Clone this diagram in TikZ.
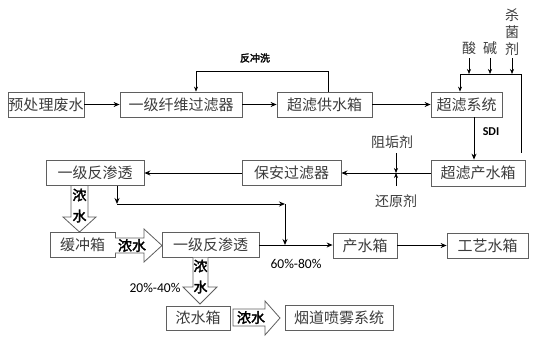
\documentclass[tikz,border=0pt]{standalone}
\usepackage{fontspec}
\usetikzlibrary{arrows.meta}
\newfontfamily\cjk{Noto Sans CJK SC}
\newfontfamily\cjkb[FakeBold=2.5]{Noto Sans CJK SC}
\newfontfamily\lat{Carlito}
\definecolor{bordergray}{RGB}{95,95,95}
\definecolor{txtgray}{RGB}{60,60,60}
\begin{document}
\begin{tikzpicture}[x=1pt,y=-1pt,
  box/.style={draw=bordergray,line width=0.8pt,inner sep=0pt,text=txtgray,
    font=\cjk\fontsize{15}{17}\selectfont},
  lbl/.style={inner sep=0pt,text=txtgray,font=\cjk\fontsize{14}{17}\selectfont,align=center},
  blbl/.style={inner sep=0pt,text=black,font=\cjkb\fontsize{14}{16}\selectfont,align=center},
  pct/.style={inner sep=0pt,text=black,font=\lat\fontsize{13.5}{15}\selectfont},
  arr/.style={line width=1pt,-{Stealth[length=6pt,width=5pt]}},
  ln/.style={line width=1pt},
  fat/.style={draw=bordergray,line width=0.8pt,fill=white}]
\useasboundingbox (0,0) rectangle (537,343);

% boxes
\node[box,minimum width=76pt,minimum height=25pt] (n1) at (46,104.5) {预处理废水};
\node[box,minimum width=122pt,minimum height=25pt] (n2) at (181,104.5) {一级纤维过滤器};
\node[box,minimum width=95pt,minimum height=25pt] (n3) at (324.5,104.5) {超滤供水箱};
\node[box,minimum width=71pt,minimum height=25pt] (n4) at (466.5,104.5) {超滤系统};
\node[box,minimum width=94pt,minimum height=26pt] (n5) at (478,173) {超滤产水箱};
\node[box,minimum width=99pt,minimum height=25pt] (n6) at (291.5,173) {保安过滤器};
\node[box,minimum width=98pt,minimum height=25pt] (n7) at (95,173) {一级反渗透};
\node[box,minimum width=65pt,minimum height=25pt] (n8) at (82.5,244.5) {缓冲箱};
\node[box,minimum width=97pt,minimum height=25pt] (n9) at (210.5,245) {一级反渗透};
\node[box,minimum width=64pt,minimum height=25pt] (n10) at (365,245.5) {产水箱};
\node[box,minimum width=81pt,minimum height=25pt] (n11) at (487.5,245.5) {工艺水箱};
\node[box,minimum width=64pt,minimum height=24pt] (n12) at (198,318) {浓水箱};
\node[box,minimum width=108pt,minimum height=25pt] (n13) at (339,317.5) {烟道喷雾系统};

% top row
\draw[arr] (n1) -- (n2);
\draw[arr] (n2) -- (n3);
\draw[arr] (n3) -- (n4);

% backwash
\coordinate (fbR) at (328,71);
\coordinate (fbL) at (196,71);
\draw[line width=0.6pt,-{Stealth[length=5pt,width=4pt]}] (fbR |- n3.north) -- (fbR) -- (fbL) -- (fbL |- n2.north);
\node[blbl,font=\cjkb\fontsize{10}{12}\selectfont] (bw) at (255,58) {反冲洗};

% chemicals
\node[lbl] (acid) at (469,48) {酸};
\node[lbl] (alk) at (490,48) {碱};
\node[lbl] (germ) at (512,32) {杀\\菌\\剂};
\coordinate (chL) at (460,74);
\coordinate (chR) at (521,74);
\coordinate (chEnd) at (521,153);
\draw[line width=0.6pt,-{Stealth[length=5pt,width=4pt]}] (469,58) -- (acid.south |- chL);
\draw[line width=0.6pt,-{Stealth[length=5pt,width=4pt]}] (490,58) -- (alk.south |- chL);
\draw[line width=0.6pt,-{Stealth[length=5pt,width=4pt]}] (512,58) -- (germ.south |- chL);
\draw[line width=0.8pt] (chL) -- (chR) -- (chEnd);
\draw[line width=0.8pt,-{Stealth[length=5pt,width=4pt]}] (chL) -- (chL |- n4.north);

% SDI
\coordinate (sdi) at (474,0);
\draw[arr] (n4.south -| sdi) -- (n5.north -| sdi);
\node[pct,font=\lat\bfseries\fontsize{12}{14}\selectfont] (sdil) at (491,132) {SDI};

% UF product -> security filter
\draw[arr] (n5) -- (n6);
\coordinate (jn) at (396,173);
\node[lbl] (zg) at (392,142) {阻垢剂};
\node[lbl] (hy) at (396,201) {还原剂};
\draw[line width=0.6pt,-{Stealth[length=5pt,width=4pt]}] (396,153) -- (jn);
\draw[line width=0.6pt,-{Stealth[length=5pt,width=4pt]}] (396,186) -- (jn);
\draw[arr] (n6) -- (n7);

% permeate of first RO
\coordinate (p1) at (117,204);
\coordinate (p2) at (285,204);
\coordinate (p3) at (285,245);
\draw[arr] (n7.south -| p1) -- (p1);
\draw[arr] (p1) -- (p2);
\draw[arr] (p2) -- (p3);
\draw[arr] (n9.east |- p3) -- (n10.west |- p3);
\node[pct] (r1) at (296,264) {60\%-80\%};
\draw[arr] (n10) -- (n11);

% fat arrows
\draw[fat] (71,186) -- (71,217) -- (63,217) -- (79.5,232) -- (96,217) -- (88,217) -- (88,186);
\node[blbl] (c1) at (79.5,195) {浓};
\node[blbl] (c2) at (79.5,216) {水};

\draw[fat] (115,238) -- (144,238) -- (144,229) -- (162,245.5) -- (144,262) -- (144,253) -- (115,253);
\node[blbl] (c3) at (132,245.5) {浓水};

\draw[fat] (193,257.5) -- (193,287) -- (183,287) -- (200,304) -- (217,287) -- (208,287) -- (208,257.5);
\node[blbl] (c4) at (200.5,266) {浓};
\node[blbl] (c5) at (200.5,287) {水};
\node[pct] (r2) at (155,288) {20\%-40\%};

\draw[fat] (233,309) -- (265,309) -- (265,301) -- (280,318) -- (265,335) -- (265,326) -- (233,326) -- cycle;
\node[blbl] (c6) at (251,317.5) {浓水};
\end{tikzpicture}
\end{document}
